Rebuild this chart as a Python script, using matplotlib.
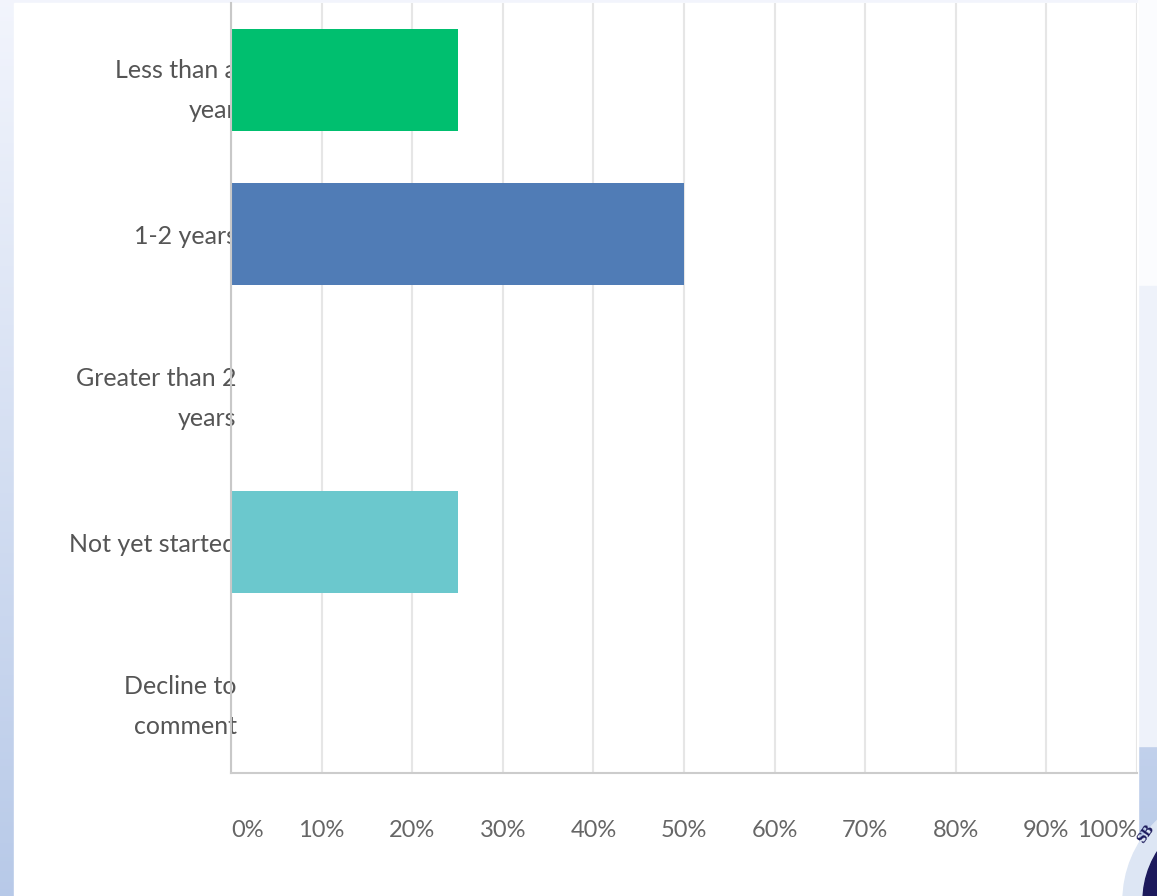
import matplotlib

matplotlib.use("Agg")
import matplotlib.pyplot as plt
import numpy as np
from matplotlib.patches import Circle, Rectangle

plt.rcParams["font.family"] = ["Lato", "DejaVu Sans"]

categories = ["Less than a\nyear", "1-2 years", "Greater than 2\nyears", "Not yet started", "Decline to\ncomment"]
shares = [25, 50, 0, 25, 0]
bar_colors = ["#00bf6f", "#507cb6", "#f05b24", "#6bc8cd", "#a0a0a0"]
x_ticks = [0, 10, 20, 30, 40, 50, 60, 70, 80, 90, 100]

W, H = 1157, 896
fig = plt.figure(figsize=(W / 100, H / 100), dpi=100)

# slide background: pale blue gradient behind the white card
bg = fig.add_axes([0, 0, 1, 1], zorder=-10)
bg.set_axis_off()
grad = np.linspace(0, 1, 256).reshape(-1, 1)
top = np.array([0.95, 0.96, 0.99])
bottom = np.array([0.72, 0.79, 0.91])
img = top + (bottom - top) * grad[..., None]
bg.imshow(img, extent=[0, W, 0, H], aspect="auto", origin="upper")
bg.set_xlim(0, W)
bg.set_ylim(0, H)
bg.add_patch(Rectangle((14, 0), 1124, H - 3, color="white", zorder=2))
bg.add_patch(Rectangle((1138, 610), 19, H - 610, color="#fbfcfe", zorder=1.5))
bg.add_patch(Rectangle((1138, 150), 19, 460, color="#eef2fa", zorder=1.5))
bg.add_patch(Circle((1235, -5), 112, color="#dde6f4", zorder=3))
bg.add_patch(Circle((1235, -5), 92, color="#1c1a5c", zorder=4))
bg.text(1146, 62, "SB", fontsize=9, fontweight="bold", color="#1c1a5c",
        rotation=55, ha="center", va="center", family="DejaVu Serif", zorder=5)

ax = fig.add_axes([231 / W, 1 - 773 / H, (1137 - 231) / W, (773 - 3) / H])
ax.set_facecolor("none")
ax.set_axisbelow(True)

y = np.arange(len(categories))
ax.barh(y, shares, height=0.66, color=bar_colors, zorder=2)

ax.set_xlim(0, 100)
ax.set_ylim(len(categories) - 0.5, -0.5)
ax.set_xticks(x_ticks)
ax.set_xticklabels([f"{t}%" for t in x_ticks], fontsize=17, color="#666666")
xl = ax.get_xticklabels()
xl[0].set_ha("left")
xl[-1].set_ha("right")
ax.set_yticks(y)
ax.set_yticklabels(categories, fontsize=18, color="#555555", linespacing=1.9)
for lab in ax.get_yticklabels():
    lab.set_multialignment("right")

ax.tick_params(axis="x", length=0, pad=34)
ax.tick_params(axis="y", length=0, pad=-4)
ax.grid(axis="x", color="#e6e6e6", linewidth=1.5)
for side in ["top", "right"]:
    ax.spines[side].set_visible(False)
ax.spines["left"].set_color("#c8c8c8")
ax.spines["bottom"].set_color("#cccccc")
ax.spines["left"].set_linewidth(1.5)
ax.spines["bottom"].set_linewidth(1.5)

fig.savefig("out.png", dpi=100)
